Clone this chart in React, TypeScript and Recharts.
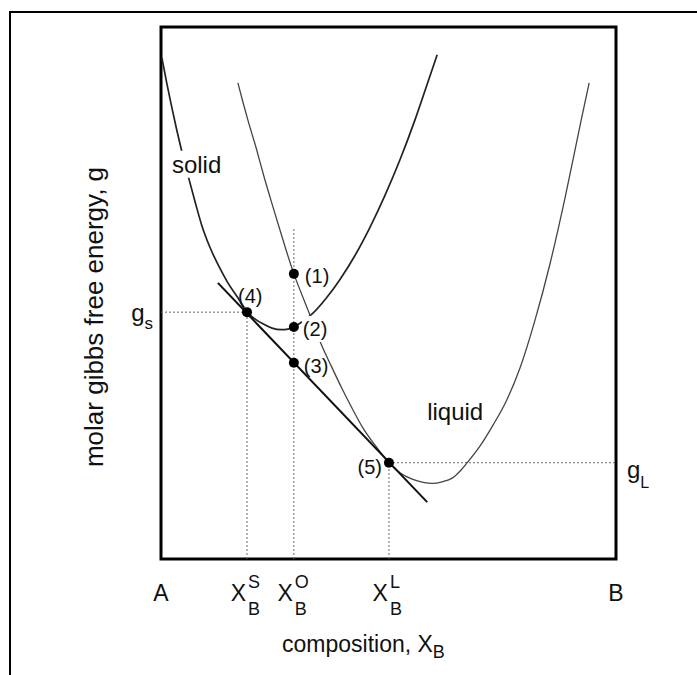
import {
  ComposedChart,
  Line,
  ReferenceArea,
  ReferenceDot,
  ReferenceLine,
  Scatter,
  XAxis,
  YAxis,
} from "recharts";

// composition runs 0 (pure A) .. 1 (pure B); g is in arbitrary units 0..100
const xS = 0.189;
const xO = 0.292;
const xL = 0.501;
const gS = 46.4;
const gL = 18.1;
const gTopO = 62.4;

const solidX = [
  0.002, 0.013, 0.024, 0.035, 0.046, 0.059, 0.075, 0.09, 0.108, 0.128, 0.147, 0.169, 0.189, 0.207, 0.224,
  0.244, 0.264, 0.279, 0.292, 0.312, 0.334, 0.363, 0.393, 0.426, 0.459, 0.492, 0.525, 0.558, 0.582, 0.607,
];
const solidG = [
  94.2, 89.3, 84.8, 80.5, 76.5, 72.2, 67.1, 62.6, 58.5, 54.9, 51.9, 49.1, 46.4, 45.1, 44.2,
  43.4, 43.1, 43.2, 43.6, 44.7, 46.2, 49.0, 52.5, 57.0, 62.3, 68.3, 75.0, 82.5, 88.5, 94.8,
];

const liquidX = [
  0.169, 0.18, 0.191, 0.209, 0.226, 0.246, 0.268, 0.292, 0.31, 0.328, 0.35, 0.374, 0.398, 0.422, 0.444, 0.473,
  0.501, 0.525, 0.552, 0.576, 0.596, 0.618, 0.64, 0.657, 0.673, 0.701, 0.73, 0.76, 0.789, 0.822, 0.855, 0.888,
  0.923, 0.941,
];
const liquidG = [
  89.5, 85.9, 82.5, 77.3, 72.0, 66.2, 60.0, 53.6, 49.6, 45.7, 40.8, 36.3, 32.0, 28.0, 24.6, 21.1,
  18.1, 16.2, 15.0, 14.4, 14.2, 14.5, 15.2, 16.5, 18.1, 21.2, 25.2, 29.9, 35.9, 44.9, 55.5, 67.9,
  82.3, 89.5,
];

// common tangent through (4) and (5)
const tangentX = [0.125, 0.585];
const tangentG = [51.9, 10.7];

const pointNames = ["(1)", "(2)", "(3)", "(4)", "(5)"];
const pointX = [xO, xO, xO, xS, xL];
const pointG = [53.6, 43.6, 36.9, gS, gL];

const compositionTicks = [0, xS, xO, xL, 1];
const tickBase = ["A", "X", "X", "X", "B"];
const tickSup = ["", "S", "O", "L", ""];
const tickSub = ["", "B", "B", "B", ""];

const FONT = '"Liberation Sans", Arial, Helvetica, sans-serif';
const INK = "#111";
const DOTTED = { stroke: "#666", strokeWidth: 1, strokeDasharray: "2 2" };

const rows = (xs: number[], gs: number[]) => xs.map((x, i) => ({ x, g: gs[i] }));
const solidData = rows(solidX, solidG);
const liquidData = rows(liquidX, liquidG);
const tangentData = rows(tangentX, tangentG);
const pointData = pointX.map((x, i) => ({ x, g: pointG[i], name: pointNames[i] }));

const labelPlacement: Record<string, { dx: number; dy: number; anchor: "start" | "end"; mask?: boolean }> = {
  "(1)": { dx: 11, dy: 9, anchor: "start" },
  "(2)": { dx: 9, dy: 9, anchor: "start", mask: true },
  "(3)": { dx: 10, dy: 10, anchor: "start" },
  "(4)": { dx: -9, dy: -9, anchor: "start" },
  "(5)": { dx: -7, dy: 11, anchor: "end" },
};

function StatePoint(props: any) {
  const { cx, cy, payload } = props;
  const p = labelPlacement[payload.name];
  return (
    <g>
      {p.mask ? <rect x={cx + p.dx - 1} y={cy - 11} width={30} height={26} fill="#fff" /> : null}
      <circle cx={cx} cy={cy} r={5} fill="#000" />
      <text x={cx + p.dx} y={cy + p.dy} textAnchor={p.anchor} fontSize={20} fontFamily={FONT} fill={INK}>
        {payload.name}
      </text>
    </g>
  );
}

function CompositionTick(props: any) {
  const { x, y, payload } = props;
  const i = compositionTicks.indexOf(payload.value);
  if (!tickSup[i]) {
    return (
      <text x={x} y={y + 42} textAnchor="middle" fontSize={23} fontFamily={FONT} fill={INK}>
        {tickBase[i]}
      </text>
    );
  }
  return (
    <g fontFamily={FONT} fill={INK}>
      <text x={x - 1} y={y + 42} textAnchor="end" fontSize={23}>
        {tickBase[i]}
      </text>
      <text x={x + 1} y={y + 29} fontSize={18}>
        {tickSup[i]}
      </text>
      <text x={x + 1} y={y + 56} fontSize={18}>
        {tickSub[i]}
      </text>
    </g>
  );
}

function EnergyTick(props: any) {
  const { x, y } = props;
  return (
    <text x={x - 8} y={y + 9} textAnchor="end" fontSize={24} fontFamily={FONT} fill={INK}>
      g
      <tspan fontSize={17} dy={8}>
        s
      </tspan>
    </text>
  );
}

function LiquidEnergyTick(props: any) {
  const { x, y } = props;
  return (
    <text x={x + 11} y={y + 15} fontSize={24} fontFamily={FONT} fill={INK}>
      g
      <tspan fontSize={16} dy={10}>
        L
      </tspan>
    </text>
  );
}

function CompositionTitle(props: any) {
  const { x, y } = props.viewBox;
  return (
    <text x={x + 121} y={y + 93} fontSize={23} fontFamily={FONT} fill={INK}>
      composition, X
      <tspan fontSize={18} dy={6}>
        B
      </tspan>
    </text>
  );
}

function EnergyTitle(props: any) {
  const { x, y } = props.viewBox;
  const tx = x + 22;
  const ty = y + 290;
  return (
    <text
      x={tx}
      y={ty}
      transform={`rotate(-90 ${tx} ${ty})`}
      textAnchor="middle"
      fontSize={26}
      fontFamily={FONT}
      fill={INK}
    >
      molar gibbs free energy, g
    </text>
  );
}

function NameTag({ cx, cy, text, mask }: { cx: number; cy: number; text: string; mask?: boolean }) {
  return (
    <g>
      {mask ? <rect x={cx - 2} y={cy - 22} width={54} height={27} fill="#fff" /> : null}
      <text x={cx} y={cy} fontSize={24} fontFamily={FONT} fill={INK}>
        {text}
      </text>
    </g>
  );
}

export default function App() {
  return (
    <div style={{ position: "fixed", left: 0, top: 0, width: 697, height: 675, overflow: "hidden", background: "#fff" }}>
      <div
        style={{
          position: "absolute",
          left: 9,
          top: 11,
          width: 800,
          height: 800,
          border: "2.5px solid #000",
        }}
      />
      <div style={{ position: "absolute", left: 0, top: 0 }}>
        <ComposedChart width={697} height={675} margin={{ top: 27, right: 11, bottom: 36, left: 81 }}>
          <XAxis
            type="number"
            dataKey="x"
            domain={[0, 1]}
            allowDataOverflow
            ticks={compositionTicks}
            tick={<CompositionTick />}
            tickSize={0}
            tickMargin={0}
            tickLine={false}
            axisLine={false}
            height={80}
            interval={0}
            label={{ content: (p: any) => <CompositionTitle {...p} /> }}
          />
          <YAxis
            type="number"
            dataKey="g"
            domain={[0, 100]}
            allowDataOverflow
            ticks={[gS]}
            tick={<EnergyTick />}
            tickSize={0}
            tickMargin={0}
            tickLine={false}
            axisLine={false}
            width={80}
            interval={0}
            label={{ content: (p: any) => <EnergyTitle {...p} /> }}
          />
          <YAxis
            yAxisId="right"
            orientation="right"
            type="number"
            domain={[0, 100]}
            allowDataOverflow
            ticks={[gL]}
            tick={<LiquidEnergyTick />}
            tickSize={0}
            tickMargin={0}
            tickLine={false}
            axisLine={false}
            width={70}
            interval={0}
          />

          <ReferenceLine segment={[{ x: 0, y: gS }, { x: xS, y: gS }]} {...DOTTED} ifOverflow="visible" />
          <ReferenceLine segment={[{ x: xS, y: 0 }, { x: xS, y: gS }]} {...DOTTED} ifOverflow="visible" />
          <ReferenceLine segment={[{ x: xO, y: 0 }, { x: xO, y: gTopO }]} {...DOTTED} ifOverflow="visible" />
          <ReferenceLine segment={[{ x: xL, y: 0 }, { x: xL, y: gL }]} {...DOTTED} ifOverflow="visible" />
          <ReferenceLine segment={[{ x: xL, y: gL }, { x: 1, y: gL }]} {...DOTTED} ifOverflow="visible" />

          <Line data={solidData} dataKey="g" type="monotone" stroke="#222" strokeWidth={1.7} dot={false} activeDot={false} isAnimationActive={false} />
          <Line data={liquidData} dataKey="g" type="monotone" stroke="#444" strokeWidth={1.3} dot={false} activeDot={false} isAnimationActive={false} />
          <Line data={tangentData} dataKey="g" type="linear" stroke="#111" strokeWidth={2} dot={false} activeDot={false} isAnimationActive={false} />

          <ReferenceArea x1={0} x2={1} y1={0} y2={100} fill="none" stroke="#000" strokeWidth={3} ifOverflow="visible" />

          <Scatter data={pointData} dataKey="g" shape={(p: any) => <StatePoint {...p} />} isAnimationActive={false} />

          <ReferenceDot x={0.024} y={72.6} r={0} shape={(p: any) => <NameTag cx={p.cx} cy={p.cy} text="solid" mask />} />
          <ReferenceDot x={0.585} y={26.1} r={0} shape={(p: any) => <NameTag cx={p.cx} cy={p.cy} text="liquid" />} />
        </ComposedChart>
      </div>
    </div>
  );
}
